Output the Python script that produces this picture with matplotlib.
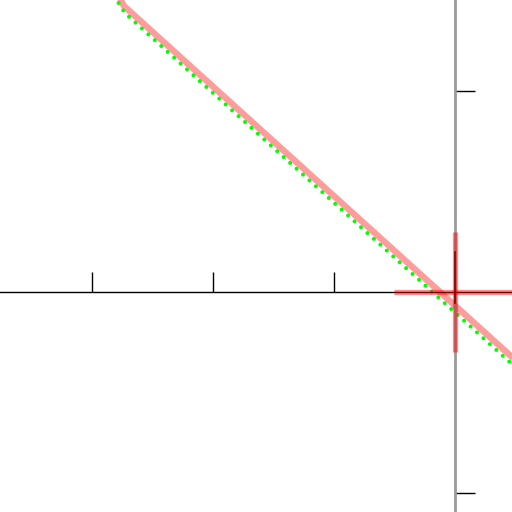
import matplotlib
matplotlib.use('Agg')
import matplotlib.pyplot as plt

# series (data units, origin at the axes crossing)
thick_x = [-2.79, -2.736, 0.496]
thick_y = [1.483, 1.423, -0.338]
dotted_x = [-2.78, -2.728, 0.496]
dotted_y = [1.438, 1.388, -0.373]

cross_h_x = [-0.5, 0.5]
cross_h_y = [0.0, 0.0]
cross_v_x = [0.0, 0.0]
cross_v_y = [-0.3, 0.3]
stem_x = [0.0, 0.0]
stem_y = [0.2, -0.055]

xticks = [-3, -2, -1]
yticks = [-1, 1]

fig = plt.figure(figsize=(5.12, 5.12), dpi=100)
ax = fig.add_axes([0, 0, 1, 1])
ax.set_xlim(-3.76, 0.471)
ax.set_ylim(-1.095, 1.453)

ax.spines['top'].set_visible(False)
ax.spines['right'].set_visible(False)
ax.spines['left'].set_position(('data', 0))
ax.spines['bottom'].set_position(('data', 0))
ax.spines['left'].set_color('#9a9a9a')
ax.spines['left'].set_linewidth(2.0)
ax.spines['bottom'].set_color('black')
ax.spines['bottom'].set_linewidth(1.0)

ax.set_xticks(xticks)
ax.set_yticks(yticks)
ax.set_xticklabels([])
ax.set_yticklabels([])
ax.tick_params(axis='both', direction='in', length=14.5, width=1.0, color='black')

ax.plot(thick_x, thick_y, color='#ff9c9c', lw=4.6, solid_capstyle='butt', zorder=2)
ax.plot(dotted_x, dotted_y, color='#00ff00', lw=2.9, linestyle=(0, (0.01, 2.15)),
        dash_capstyle='round', zorder=2.2)

ax.plot(cross_h_x, cross_h_y, color='red', alpha=0.45, lw=3.8, solid_capstyle='butt', zorder=3)
ax.plot(cross_v_x, cross_v_y, color='red', alpha=0.45, lw=3.8, solid_capstyle='butt', zorder=3)
ax.plot(stem_x, stem_y, color='#8b0000', lw=1.2, zorder=3.1)

fig.savefig('out.png', dpi=100)
